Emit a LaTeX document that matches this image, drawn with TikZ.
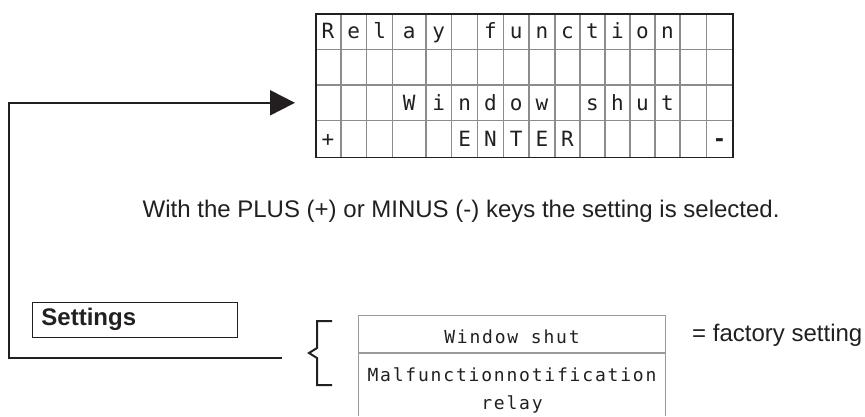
\documentclass[tikz,border=0pt]{standalone}
\usepackage{fontspec}
\setmainfont{Liberation Sans}
\newfontfamily\lcdfont{DejaVu Sans Mono}
\newfontfamily\lcdwide[LetterSpace=10]{DejaVu Sans Mono}
\usetikzlibrary{arrows.meta}

\definecolor{ink}{HTML}{231F20}
\definecolor{cellrule}{HTML}{8C8C8C}
\definecolor{tablerule}{HTML}{9A9A9A}

\tikzset{
  lcdchar/.style={anchor=base, inner sep=0pt, text=ink, font=\lcdfont\fontsize{21}{21}\selectfont},
  sanstext/.style={anchor=base west, inner sep=0pt, text=ink, font=\fontsize{24}{24}\selectfont},
  optiontext/.style={inner sep=0pt, text=ink, align=center, font=\lcdwide\fontsize{18}{28.7}\selectfont},
  connector/.style={draw=ink, line width=2pt},
  settingsbox/.style={draw=ink, line width=1.5pt, anchor=north west, minimum width=205pt,
    minimum height=35pt, text width=187pt, inner xsep=9pt, inner ysep=0pt, align=left,
    text height=17pt, text depth=5pt, text=ink, font=\bfseries\fontsize{24}{24}\selectfont},
}

\begin{document}
\begin{tikzpicture}[x=1pt, y=-1pt]
\useasboundingbox (0,0) rectangle (865,416);

% ---- LCD display: 16 columns x 4 rows ----
\foreach \gx in {341,366.7,392.7,426,451.7,477.7,503.3,529,555,580,605,630,655,680,706.7}
  \draw[cellrule, line width=1.2pt] (\gx,13) -- (\gx,156.7);
\foreach \gy in {49.3,85,120.7}
  \draw[cellrule, line width=1.2pt] (315,\gy) -- (732.3,\gy);
\node[draw=ink, line width=1.6pt, anchor=north west, minimum width=417.3pt,
      minimum height=143.7pt, inner sep=0pt] (lcd) at (315,13) {};

% row 1
\foreach \cx/\ch [count=\i] in {328/R,353.8/e,379.7/l,409.3/a,438.8/y,490.5/f,516.2/u,
    542/n,567.5/c,592.5/t,617.5/i,642.5/o,667.5/n}
  \node[lcdchar] (ra-\i) at (\cx,38.5) {\ch};
% row 3
\foreach \cx/\ch [count=\i] in {409.3/W,438.8/i,464.7/n,490.5/d,516.2/o,542/w,
    592.5/s,617.5/h,642.5/u,667.5/t}
  \node[lcdchar] (rc-\i) at (\cx,110.3) {\ch};
% row 4
\foreach \cx/\ch [count=\i] in {328/+,464.7/E,490.5/N,516.2/T,542/E,567.5/R}
  \node[lcdchar] (rd-\i) at (\cx,146.3) {\ch};
\node[lcdchar, font=\lcdfont\bfseries\fontsize{22}{22}\selectfont] (rd-minus) at (719.5,146) {-};

% ---- explanation ----
\node[sanstext] (hint) at (142.5,217.3) {With the PLUS (+) or MINUS (-) keys the setting is selected.};

% ---- settings label ----
\node[settingsbox] (settings) at (31.7,301.7) {Settings};

% ---- feedback connector ----
\coordinate (selend) at (282,357.7);
\coordinate (track) at (9.3,0);
\coordinate (tip) at (295,102.8);
\draw[connector, -{Triangle[length=25pt, width=25pt]}]
  (selend) -| (track |- tip) -- (tip);

% ---- bracket ----
\draw[connector, line cap=butt] (332,321) -- (317,321) -- (317,348) -- (309,353)
  -- (317,358) -- (317,385) -- (332,385);

% ---- options table ----
\draw[tablerule, line width=1.3pt] (358.3,416) -- (358.3,315.7) -- (665.7,315.7) -- (665.7,416);
\draw[tablerule, line width=1.3pt] (358.3,353) -- (665.7,353);
\node[optiontext, anchor=base] (opt-a) at (512,343) {Window shut};
% anchor=base of a two-line node sits on its last line
\node[optiontext, anchor=base] (opt-b) at (512,409.7) {Malfunctionnotification\\relay};

\node[sanstext] (factory) at (692,341.7) {= factory setting};
\end{tikzpicture}
\end{document}
